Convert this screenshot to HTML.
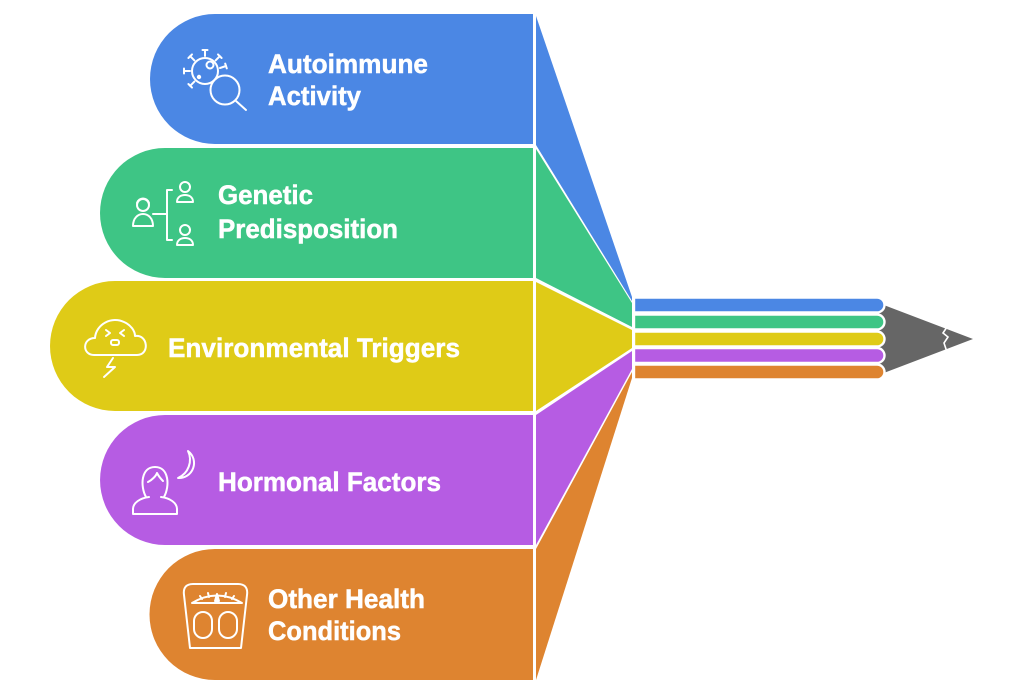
<!DOCTYPE html>
<html>
<head>
<meta charset="utf-8">
<style>
  html,body{margin:0;padding:0;background:#fff;}
  svg{display:block;}
  text{font-family:"Liberation Sans",Arial,sans-serif;font-weight:bold;fill:#fff;font-size:27px;stroke:#fff;stroke-width:0.5;}
</style>
</head>
<body>
<svg width="1024" height="683" viewBox="0 0 1024 683" xmlns="http://www.w3.org/2000/svg">
  <!-- bars -->
  <path d="M215 14 H533 V144 H215 A65 65 0 0 1 215 14 Z" fill="#4b87e4"/>
  <path d="M165 148 H533 V278 H165 A65 65 0 0 1 165 148 Z" fill="#3ec585"/>
  <path d="M115 281 H533 V411 H115 A65 65 0 0 1 115 281 Z" fill="#dfcb17"/>
  <path d="M165 415 H533 V545 H165 A65 65 0 0 1 165 415 Z" fill="#b65ce3"/>
  <path d="M215 549 H533 V680 H215 A65.5 65.5 0 0 1 215 549 Z" fill="#de8430"/>

  <!-- wedges -->
  <polygon points="536,16 632,297 632,301 536,145" fill="#4b87e4"/>
  <polygon points="536,149 632,303 632,327 536,278" fill="#3ec585"/>
  <polygon points="536,282 632,330 632,348 536,411" fill="#dfcb17"/>
  <polygon points="536,415 632,351 632,369 536,545" fill="#b65ce3"/>
  <polygon points="536,549 632,372 632,378 536,680" fill="#de8430"/>

  <!-- pencil tip -->
  <polygon points="876,302 973,339 876,376" fill="#666666"/>
  <polyline points="947,327 943,333 948,337 944,343 947,352" fill="none" stroke="#fff" stroke-width="1.6"/>

  <!-- stripes -->
  <g stroke="#fff" stroke-width="2.4">
    <path d="M634 297.5 H877 A7 7 0 0 1 877 312.5 H634 Z" fill="#4b87e4"/>
    <path d="M634 314.5 H877 A7 7 0 0 1 877 329.5 H634 Z" fill="#3ec585"/>
    <path d="M634 331.5 H877 A7 7 0 0 1 877 346.5 H634 Z" fill="#dfcb17"/>
    <path d="M634 348 H877 A7 7 0 0 1 877 363 H634 Z" fill="#b65ce3"/>
    <path d="M634 364.5 H877 A7 7 0 0 1 877 379.5 H634 Z" fill="#de8430"/>
  </g>

  <!-- text -->
  <text x="268" y="73" textLength="160" lengthAdjust="spacingAndGlyphs">Autoimmune</text>
  <text x="268" y="105" textLength="93" lengthAdjust="spacingAndGlyphs">Activity</text>
  <text x="218" y="204" textLength="95" lengthAdjust="spacingAndGlyphs">Genetic</text>
  <text x="218" y="238" textLength="180" lengthAdjust="spacingAndGlyphs">Predisposition</text>
  <text x="168" y="357" textLength="292" lengthAdjust="spacingAndGlyphs">Environmental Triggers</text>
  <text x="218" y="491" textLength="223" lengthAdjust="spacingAndGlyphs">Hormonal Factors</text>
  <text x="268" y="608" textLength="157" lengthAdjust="spacingAndGlyphs">Other Health</text>
  <text x="268" y="640" textLength="133" lengthAdjust="spacingAndGlyphs">Conditions</text>

  <!-- icons -->
  <g fill="none" stroke="#fff" stroke-width="2" stroke-linecap="round" stroke-linejoin="round">
    <!-- microbe + magnifier -->
    <circle cx="205" cy="71" r="13"/>
    <g>
      <line x1="205" y1="56" x2="205" y2="50"/><line x1="202.5" y1="50" x2="207.5" y2="50"/>
      <line x1="215.6" y1="60.4" x2="219.8" y2="56.2"/><line x1="218" y1="54.4" x2="221.6" y2="58"/>
      <line x1="194.4" y1="60.4" x2="190.2" y2="56.2"/><line x1="188.4" y1="58" x2="192" y2="54.4"/>
      <line x1="190" y1="71" x2="184" y2="71"/><line x1="184" y1="68.5" x2="184" y2="73.5"/>
      <line x1="194.4" y1="81.6" x2="190.2" y2="85.8"/><line x1="188.4" y1="84" x2="192" y2="87.6"/>
      <line x1="220" y1="68" x2="226" y2="66"/><line x1="225.2" y1="63.6" x2="226.8" y2="68.4"/>
    </g>
    <circle cx="210" cy="65" r="3.5"/>
    <circle cx="199" cy="77" r="1.2" fill="#fff"/>
    <circle cx="225" cy="90" r="14.5" fill="#4b87e4"/>
    <line x1="236" y1="101" x2="246" y2="110"/>

    <!-- genetic -->
    <circle cx="143" cy="205" r="6"/>
    <path d="M137 203 C139 197 147 197 149 203"/>
    <path d="M133 226 C133 218 138 214 143 214 C148 214 153 218 153 226 Z"/>
    <line x1="153" y1="214" x2="167" y2="214"/>
    <polyline points="172,190 167,190 167,240 172,240"/>
    <circle cx="185" cy="187" r="5"/>
    <path d="M177 202 C177 197 181 195 185 195 C189 195 193 197 193 202 Z"/>
    <circle cx="185" cy="230" r="5"/>
    <path d="M177 245 C177 240 181 238 185 238 C189 238 193 240 193 245 Z"/>

    <!-- cloud -->
    <path d="M94 355 C82 355 82 338 95 338 C96 324 112 316 124 322 C131 325 135 331 135 336 C148 334 150 355 137 355 Z"/>
    <polyline points="106,330 110,333 106,336"/>
    <polyline points="124,330 120,333 124,336"/>
    <rect x="111" y="340" width="8" height="5" rx="2"/>
    <polyline points="113,358 107,367 115,367 104,377"/>

    <!-- woman + moon -->
    <path d="M146 497 C140 486 141 467 155 467 C169 467 170 486 164 497"/>
    <path d="M148 482 C152 480 156 476 157 473 C159 477 162 480 163 481"/>
    <path d="M149 497 C140 498 133 503 133 509 V514 H177 V509 C177 503 170 498 161 497"/>
    <path d="M188 451 A15 15 0 0 1 178 478 A20 20 0 0 0 188 451 Z"/>

    <!-- scale -->
    <path d="M190 648 L184 595 C183 588 186 584 193 584 H238 C245 584 248 588 247 595 L241 648 Z"/>
    <path d="M192 603 Q217 588 242 603 Z"/>
    <line x1="200" y1="596" x2="202" y2="599"/>
    <line x1="208" y1="593" x2="209" y2="597"/>
    <line x1="226" y1="593" x2="225" y2="597"/>
    <line x1="234" y1="596" x2="232" y2="599"/>
    <path d="M217 594 L215 601 H219 Z" fill="#fff"/>
    <rect x="194" y="612" width="18" height="26" rx="9"/>
    <rect x="219" y="612" width="18" height="26" rx="9"/>
  </g>
</svg>
</body>
</html>
